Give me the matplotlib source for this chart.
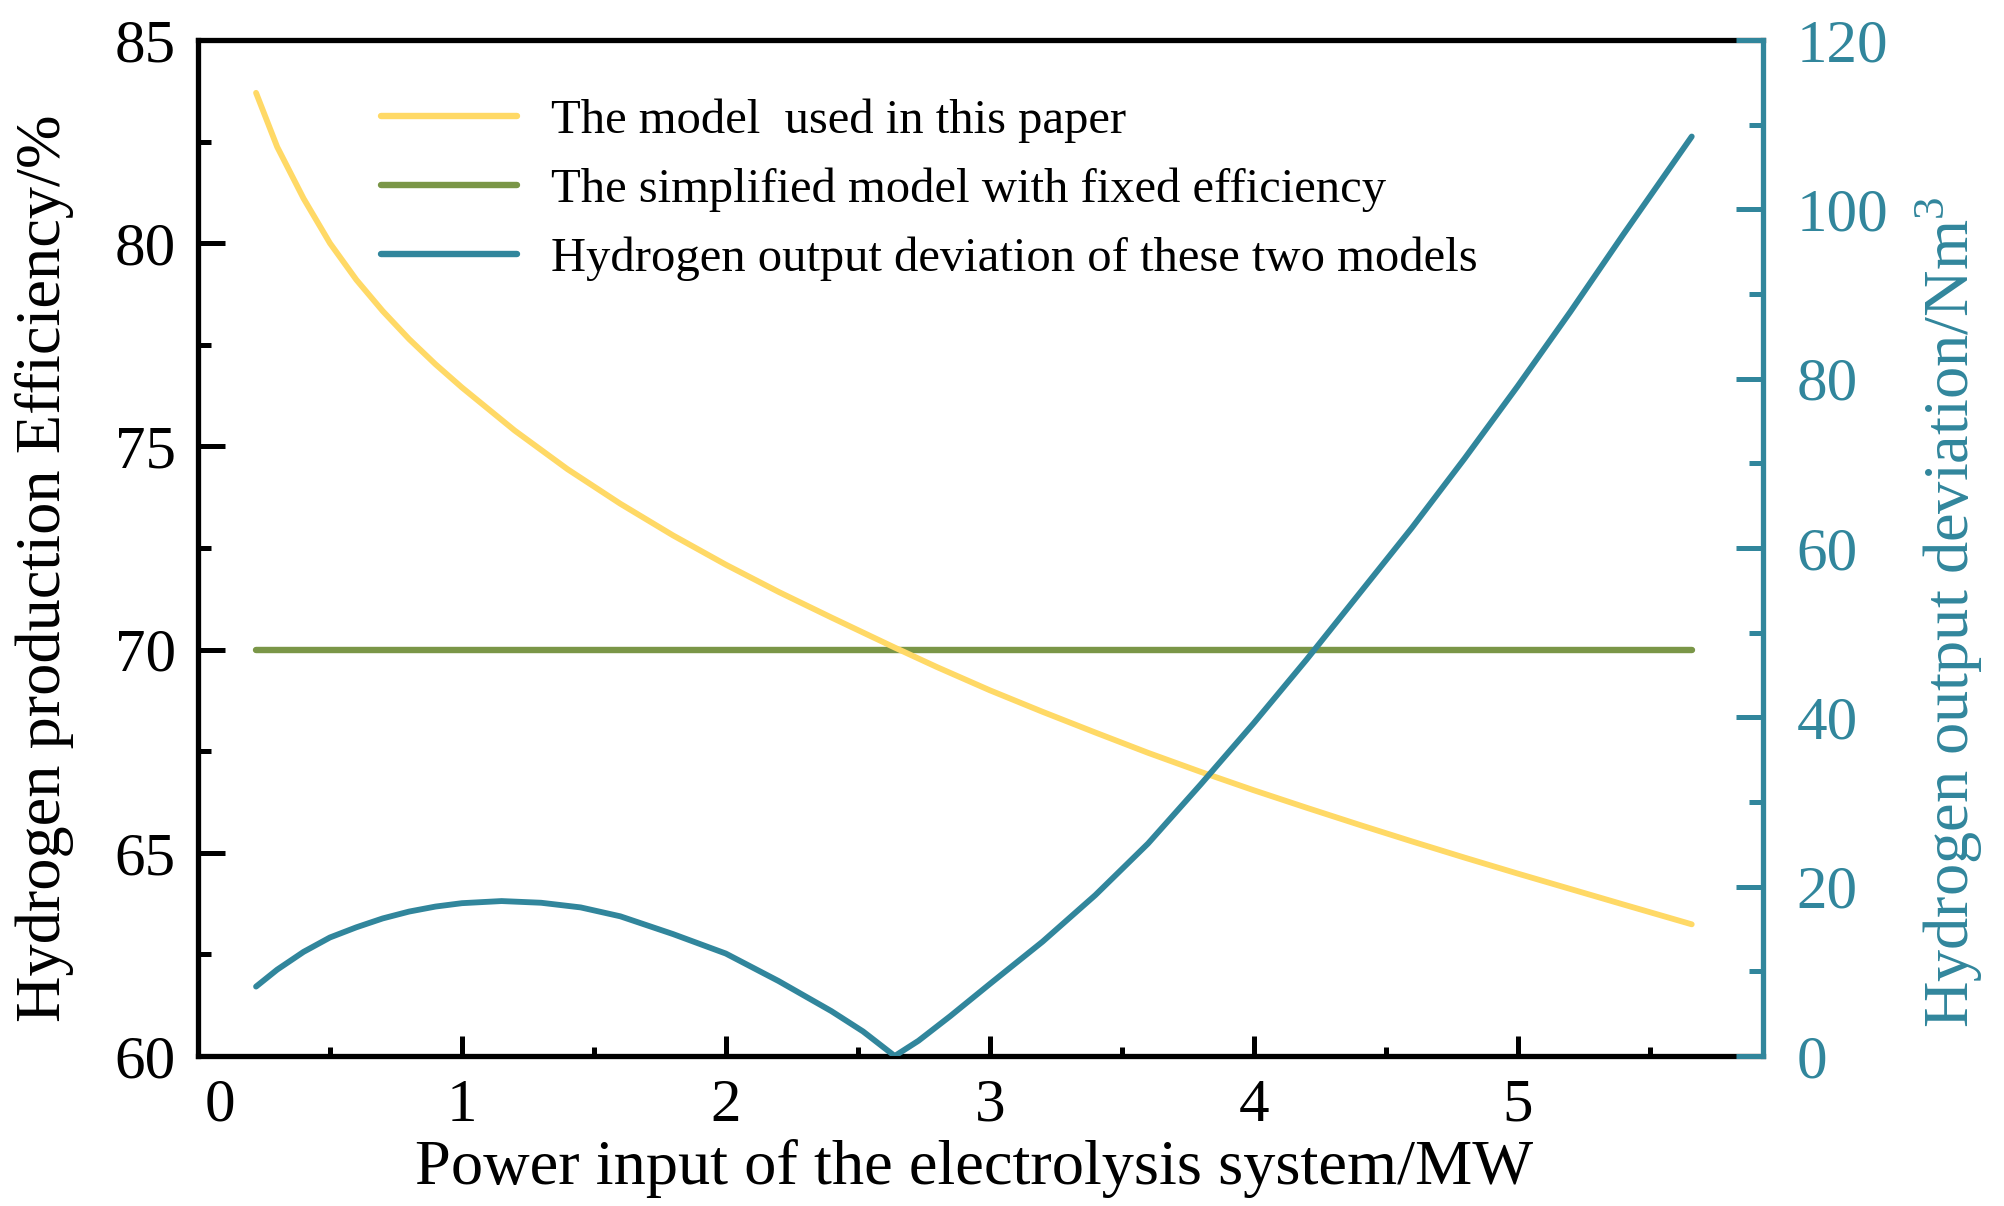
import matplotlib
matplotlib.use('Agg')
import matplotlib.pyplot as plt
import matplotlib.transforms as mtransforms
from matplotlib.ticker import MultipleLocator

plt.rcParams['font.family'] = ['Liberation Serif', 'DejaVu Serif']
plt.rcParams['mathtext.fontset'] = 'custom'
plt.rcParams['mathtext.rm'] = 'Liberation Serif'

# ---------------- data ----------------
power_model = [0.22, 0.3, 0.4, 0.5, 0.6, 0.7, 0.8, 0.9, 1.0, 1.2, 1.4, 1.6, 1.8,
               2.0, 2.2, 2.4, 2.64, 2.8, 3.0, 3.2, 3.4, 3.6, 3.8, 4.0, 4.2, 4.4,
               4.6, 4.8, 5.0, 5.2, 5.4, 5.66]
eff_model = [83.70, 82.37, 81.10, 80.00, 79.10, 78.33, 77.64, 77.02, 76.45, 75.39,
             74.44, 73.59, 72.81, 72.09, 71.42, 70.79, 70.05, 69.57, 69.00, 68.47,
             67.96, 67.46, 66.99, 66.54, 66.11, 65.69, 65.28, 64.88, 64.49, 64.11,
             63.73, 63.24]

power_fixed = [0.22, 5.66]
eff_fixed = [70.0, 70.0]

power_dev = [0.22, 0.3, 0.4, 0.5, 0.6, 0.7, 0.8, 0.9, 1.0, 1.15, 1.3, 1.45, 1.6,
             1.8, 2.0, 2.2, 2.4, 2.52, 2.64, 2.73, 2.85, 3.0, 3.2, 3.4, 3.6, 3.8,
             4.0, 4.2, 4.4, 4.6, 4.8, 5.0, 5.2, 5.4, 5.66]
dev_h2 = [8.2, 10.2, 12.3, 14.0, 15.2, 16.25, 17.06, 17.65, 18.05, 18.3, 18.1,
          17.55, 16.5, 14.4, 12.1, 8.85, 5.3, 2.9, 0.0, 1.8, 4.7, 8.5, 13.5, 19.0,
          25.1, 32.1, 39.3, 46.8, 54.6, 62.4, 70.6, 79.1, 87.9, 97.0, 108.6]

labels = ['The model  used in this paper',
          'The simplified model with fixed efficiency',
          'Hydrogen output deviation of these two models']

x_ticks = [0, 1, 2, 3, 4, 5]
left_ticks = [60, 65, 70, 75, 80, 85]
right_ticks = [0, 20, 40, 60, 80, 100, 120]

# ---------------- style ----------------
YELLOW = '#FFD966'
GREEN = '#7A9647'
TEAL = '#31869C'

fig = plt.figure(figsize=(10.02, 6.03), dpi=200)
ax = fig.add_axes([198/2004, 1-1056/1206, (1763-198)/2004, (1056-40)/1206])
ax2 = ax.twinx()

l1, = ax.plot(power_model, eff_model, color=YELLOW, lw=2.1, solid_capstyle='round', zorder=3)
l2, = ax.plot(power_fixed, eff_fixed, color=GREEN, lw=2.3, solid_capstyle='round', zorder=2)
l3, = ax2.plot(power_dev, dev_h2, color=TEAL, lw=2.1, solid_capstyle='round', zorder=3)

ax.set_xlim(0, 5.93)
ax.set_ylim(60, 85)
ax2.set_ylim(0, 120)

ax.set_xticks(x_ticks)
ax.set_yticks(left_ticks)
ax2.set_yticks(right_ticks)
ax.xaxis.set_minor_locator(MultipleLocator(0.5))
ax.yaxis.set_minor_locator(MultipleLocator(2.5))
ax2.yaxis.set_minor_locator(MultipleLocator(10))

fs = 22
lfs = 23.2
ax.tick_params(axis='x', which='major', direction='in', length=7.2, width=1.8, labelsize=fs, pad=8)
ax.tick_params(axis='x', which='minor', direction='in', length=3.3, width=1.8)
ax.tick_params(axis='y', which='major', direction='in', length=9.6, width=1.8, labelsize=fs, pad=8)
ax.tick_params(axis='y', which='minor', direction='in', length=4.8, width=1.8)
ax2.tick_params(axis='y', which='major', direction='in', length=9.8, width=1.8, labelsize=fs,
                pad=12, colors=TEAL)
ax2.tick_params(axis='y', which='minor', direction='in', length=5.0, width=1.8, colors=TEAL)

for s in ['left', 'bottom', 'top']:
    ax.spines[s].set_linewidth(1.9)
    ax.spines[s].set_color('black')
ax.spines['right'].set_visible(False)
for s in ['left', 'bottom', 'top']:
    ax2.spines[s].set_visible(False)
ax2.spines['right'].set_color(TEAL)
ax2.spines['right'].set_linewidth(1.9)

# shift the "0" tick label slightly right, as in the reference
for lab in ax.get_xticklabels():
    if lab.get_text() == '0':
        lab.set_transform(lab.get_transform() + mtransforms.ScaledTranslation(22/200, 0, fig.dpi_scale_trans))

ax.set_xlabel('Power input of the electrolysis system/MW', fontsize=lfs)
ax.xaxis.set_label_coords(0.496, -0.111)
ax.xaxis.label.set_va('center')
ax.set_ylabel('Hydrogen production Efficiency/%', fontsize=lfs, va='center')
ax.yaxis.set_label_coords(-0.098, 0.48)
ax2.set_ylabel('Hydrogen output deviation/Nm$^3$', fontsize=lfs, color=TEAL, va='center', rotation=90)
ax2.yaxis.set_label_coords(1.119, 0.437)

leg = ax2.legend([l1, l2, l3], labels, loc='upper left', bbox_to_anchor=(0.117, 0.942),
                 frameon=False, fontsize=17.5, handlelength=2.8, handletextpad=0.7,
                 labelspacing=0.5, borderpad=0, borderaxespad=0)
for h in leg.legend_handles:
    h.set_linewidth(2.3)

fig.savefig('out.png', dpi=200)
